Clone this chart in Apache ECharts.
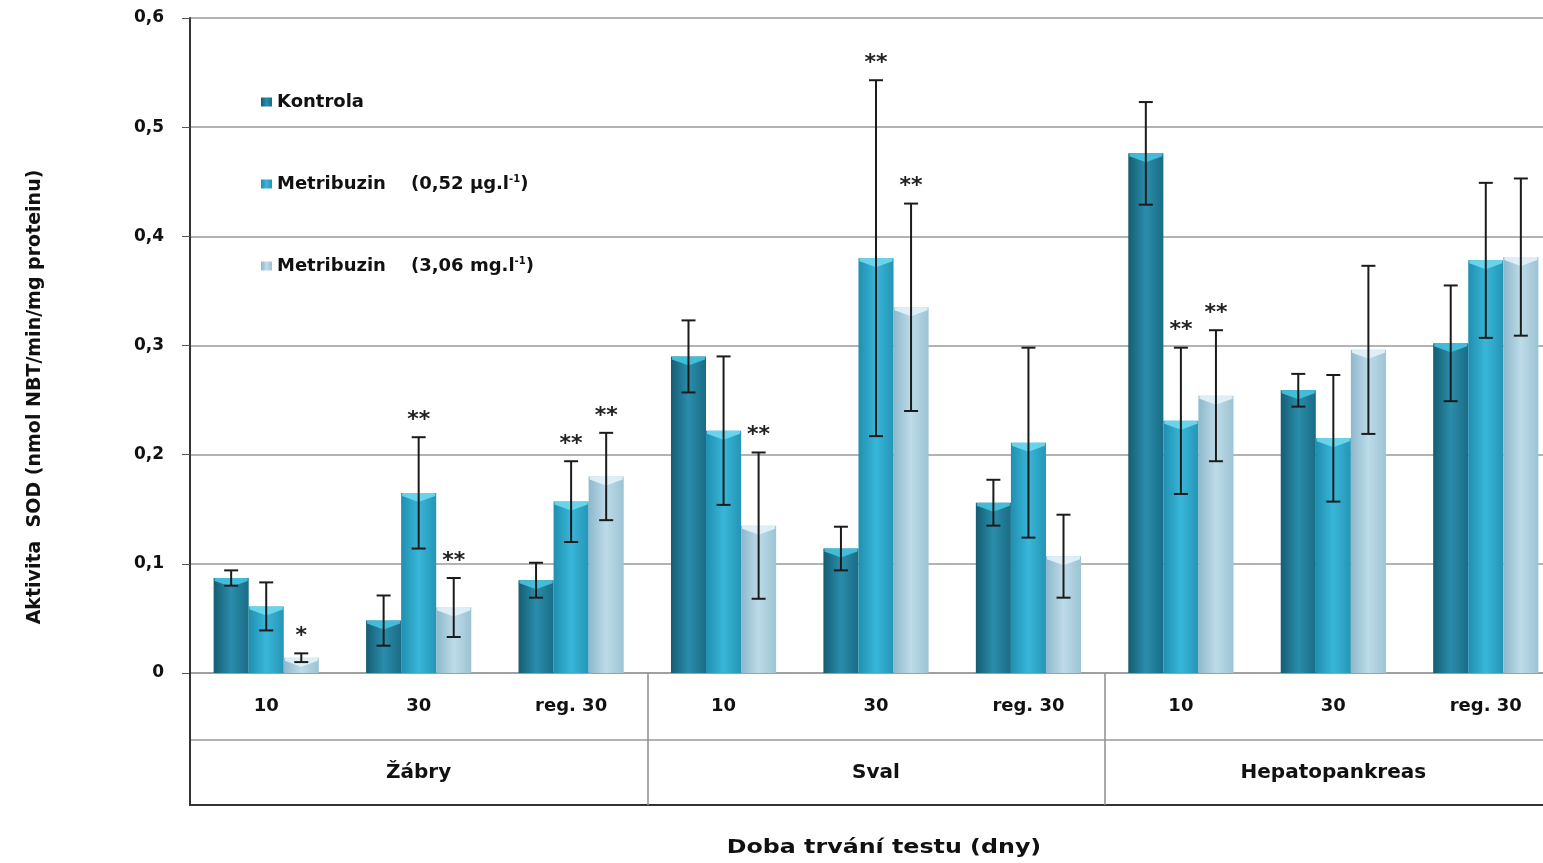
<!DOCTYPE html>
<html><head><meta charset="utf-8">
<script src="https://cdn.jsdelivr.net/npm/echarts@6/dist/echarts.min.js"></script>
<style>html,body{margin:0;padding:0;background:#fff;overflow:hidden;width:1543px;height:863px}#c{width:1566px;height:863px}</style>
</head><body><div id="c"></div>
<script>
const categories = ['10', '30', 'reg. 30', '10', '30', 'reg. 30', '10', '30', 'reg. 30'];
const groupNames = ['Žábry', 'Sval', 'Hepatopankreas'];
const seriesNames = ['Kontrola', 'Metribuzin (0,52 μg.l-1)', 'Metribuzin (3,06 mg.l-1)'];
const legendTexts = ['{t|Kontrola}', '{t|Metribuzin    (0,52 μg.l}{s|-1}{t|)}', '{t|Metribuzin    (3,06 mg.l}{s|-1}{t|)}'];

const kontrola    = [0.087, 0.048, 0.085, 0.290, 0.114, 0.156, 0.476, 0.259, 0.302];
const kontrolaErr = [0.007, 0.023, 0.016, 0.033, 0.020, 0.021, 0.047, 0.015, 0.053];
const metrLow     = [0.061, 0.165, 0.157, 0.222, 0.380, 0.211, 0.231, 0.215, 0.378];
const metrLowErr  = [0.022, 0.051, 0.037, 0.068, 0.163, 0.087, 0.067, 0.058, 0.071];
const metrHigh    = [0.014, 0.060, 0.180, 0.135, 0.335, 0.107, 0.254, 0.296, 0.381];
const metrHighErr = [0.004, 0.027, 0.040, 0.067, 0.095, 0.038, 0.060, 0.077, 0.072];
const sigKontrola = ['', '', '', '', '', '', '', '', ''];
const sigLow      = ['', '**', '**', '', '**', '', '**', '', ''];
const sigHigh     = ['*', '**', '**', '**', '**', '', '**', '', ''];

const FONT = 'DejaVu Sans';
const GAP = 0.31;
const chart = echarts.init(document.getElementById('c'));

function grad(a, b, c) {
  return new echarts.graphic.LinearGradient(0, 0, 1, 0, [
    { offset: 0, color: a }, { offset: 0.5, color: b }, { offset: 1, color: c }
  ]);
}
const fills = [
  grad('#155d72', '#2a8dab', '#1a6c85'),
  grad('#1f8fb0', '#38b6d8', '#2595b6'),
  grad('#8db8cb', '#bddbe8', '#9cc3d4')
];
const capFills = ['#45c4e0', '#6fd9f0', '#e3f2f8'];

function barSeries(idx, vals) {
  return {
    name: seriesNames[idx], type: 'bar', data: vals,
    barGap: '0%', barCategoryGap: (GAP * 100) + '%',
    itemStyle: { color: fills[idx] }, z: 2
  };
}

function errSeries(idx, vals, errs, sigs) {
  return {
    type: 'custom', silent: true, z: 5,
    data: vals.map((v, i) => [i, v, errs[i]]),
    encode: { x: 0, y: 1 },
    renderItem: (params, api) => {
      const i = api.value(0), v = api.value(1), e = api.value(2);
      const band = api.size([1, 0])[0];
      const bw = band * (1 - GAP) / 3;
      const base = api.coord([i, v]);
      const cx = base[0] + (idx - 1) * bw;
      const top = base[1];
      const yHi = api.coord([i, v + e])[1];
      const yLo = api.coord([i, v - e])[1];
      const L = cx - bw / 2 + 1, R = cx + bw / 2 - 1;
      const cap = 7;
      const ls = { stroke: '#1b1b1b', lineWidth: 2 };
      const children = [
        { type: 'polygon', shape: { points: [[L, top], [R, top], [R, top + 3], [cx, top + 9], [L, top + 3]] }, style: { fill: capFills[idx], opacity: 0.9 } },
        { type: 'line', shape: { x1: cx, y1: yHi, x2: cx, y2: yLo }, style: ls },
        { type: 'line', shape: { x1: cx - cap, y1: yHi, x2: cx + cap, y2: yHi }, style: ls },
        { type: 'line', shape: { x1: cx - cap, y1: yLo, x2: cx + cap, y2: yLo }, style: ls }
      ];
      const s = sigs[params.dataIndex];
      if (s) {
        children.push({ type: 'text', style: { text: s, x: cx, y: yHi - 6, align: 'center', verticalAlign: 'bottom', font: 'bold 22px "DejaVu Sans"', fill: '#222' } });
      }
      return { type: 'group', children };
    }
  };
}

const option = {
  backgroundColor: '#ffffff',
  animation: false,
  grid: { left: 190, top: 18, right: 4, bottom: 190, containLabel: false },
  legend: {
    orient: 'vertical', left: 256, top: 87, itemGap: 62,
    icon: 'rect', itemWidth: 11, itemHeight: 9,
    data: seriesNames,
    formatter: name => legendTexts[seriesNames.indexOf(name)],
    textStyle: {
      lineHeight: 20,
      rich: {
        t: { fontFamily: FONT, fontWeight: 'bold', fontSize: 18, color: '#111', lineHeight: 20 },
        s: { fontFamily: FONT, fontWeight: 'bold', fontSize: 10, color: '#111', verticalAlign: 'top', lineHeight: 20 }
      }
    }
  },
  xAxis: [
    {
      type: 'category', data: categories, position: 'bottom',
      axisLine: { show: true, lineStyle: { color: '#9a9a9a', width: 1.5 } },
      axisTick: { show: false },
      axisLabel: { margin: 24, fontFamily: FONT, fontWeight: 'bold', fontSize: 18, color: '#111', interval: 0 }
    },
    {
      type: 'category', data: groupNames, position: 'bottom', offset: 132,
      axisLine: { show: true, lineStyle: { color: '#333', width: 2 } },
      axisTick: { show: true, inside: true, length: 132, interval: 0, lineStyle: { color: '#8e8e8e', width: 1.5 } },
      axisLabel: { inside: true, margin: 22, fontFamily: FONT, fontWeight: 'bold', fontSize: 20, color: '#111', interval: 0 }
    },
    {
      type: 'category', data: categories, position: 'bottom', offset: 67,
      axisLine: { show: true, lineStyle: { color: '#9a9a9a', width: 1.5 } },
      axisTick: { show: false }, axisLabel: { show: false }
    }
  ],
  yAxis: {
    type: 'value', min: 0, max: 0.6, interval: 0.1,
    axisLine: { show: true, lineStyle: { color: '#333', width: 2 } },
    axisTick: { show: true, length: 8, lineStyle: { color: '#555', width: 1 } },
    splitLine: { show: true, lineStyle: { color: '#9a9a9a', width: 1.5 } },
    axisLabel: {
      margin: 26, fontFamily: FONT, fontWeight: 'bold', fontSize: 17, color: '#111',
      formatter: v => (v === 0 ? '0' : v.toFixed(1).replace('.', ','))
    }
  },
  series: [
    barSeries(0, kontrola), barSeries(1, metrLow), barSeries(2, metrHigh),
    errSeries(0, kontrola, kontrolaErr, sigKontrola),
    errSeries(1, metrLow, metrLowErr, sigLow),
    errSeries(2, metrHigh, metrHighErr, sigHigh)
  ],
  graphic: [
    { type: 'line', shape: { x1: 190, y1: 672, x2: 190, y2: 806 }, style: { stroke: '#333', lineWidth: 2 }, z: 10 },
    { type: 'text', x: 35, y: 397, rotation: Math.PI / 2,
      style: { text: 'Aktivita  SOD (nmol NBT/min/mg proteinu)', align: 'center', verticalAlign: 'middle', font: 'bold 19px "DejaVu Sans"', fill: '#111' } },
    { type: 'text', x: 884, y: 848, scaleX: 1.25,
      style: { text: 'Doba trvání testu (dny)', align: 'center', verticalAlign: 'middle', font: 'bold 19px "DejaVu Sans"', fill: '#111' } }
  ]
};
chart.setOption(option);
</script></body></html>
